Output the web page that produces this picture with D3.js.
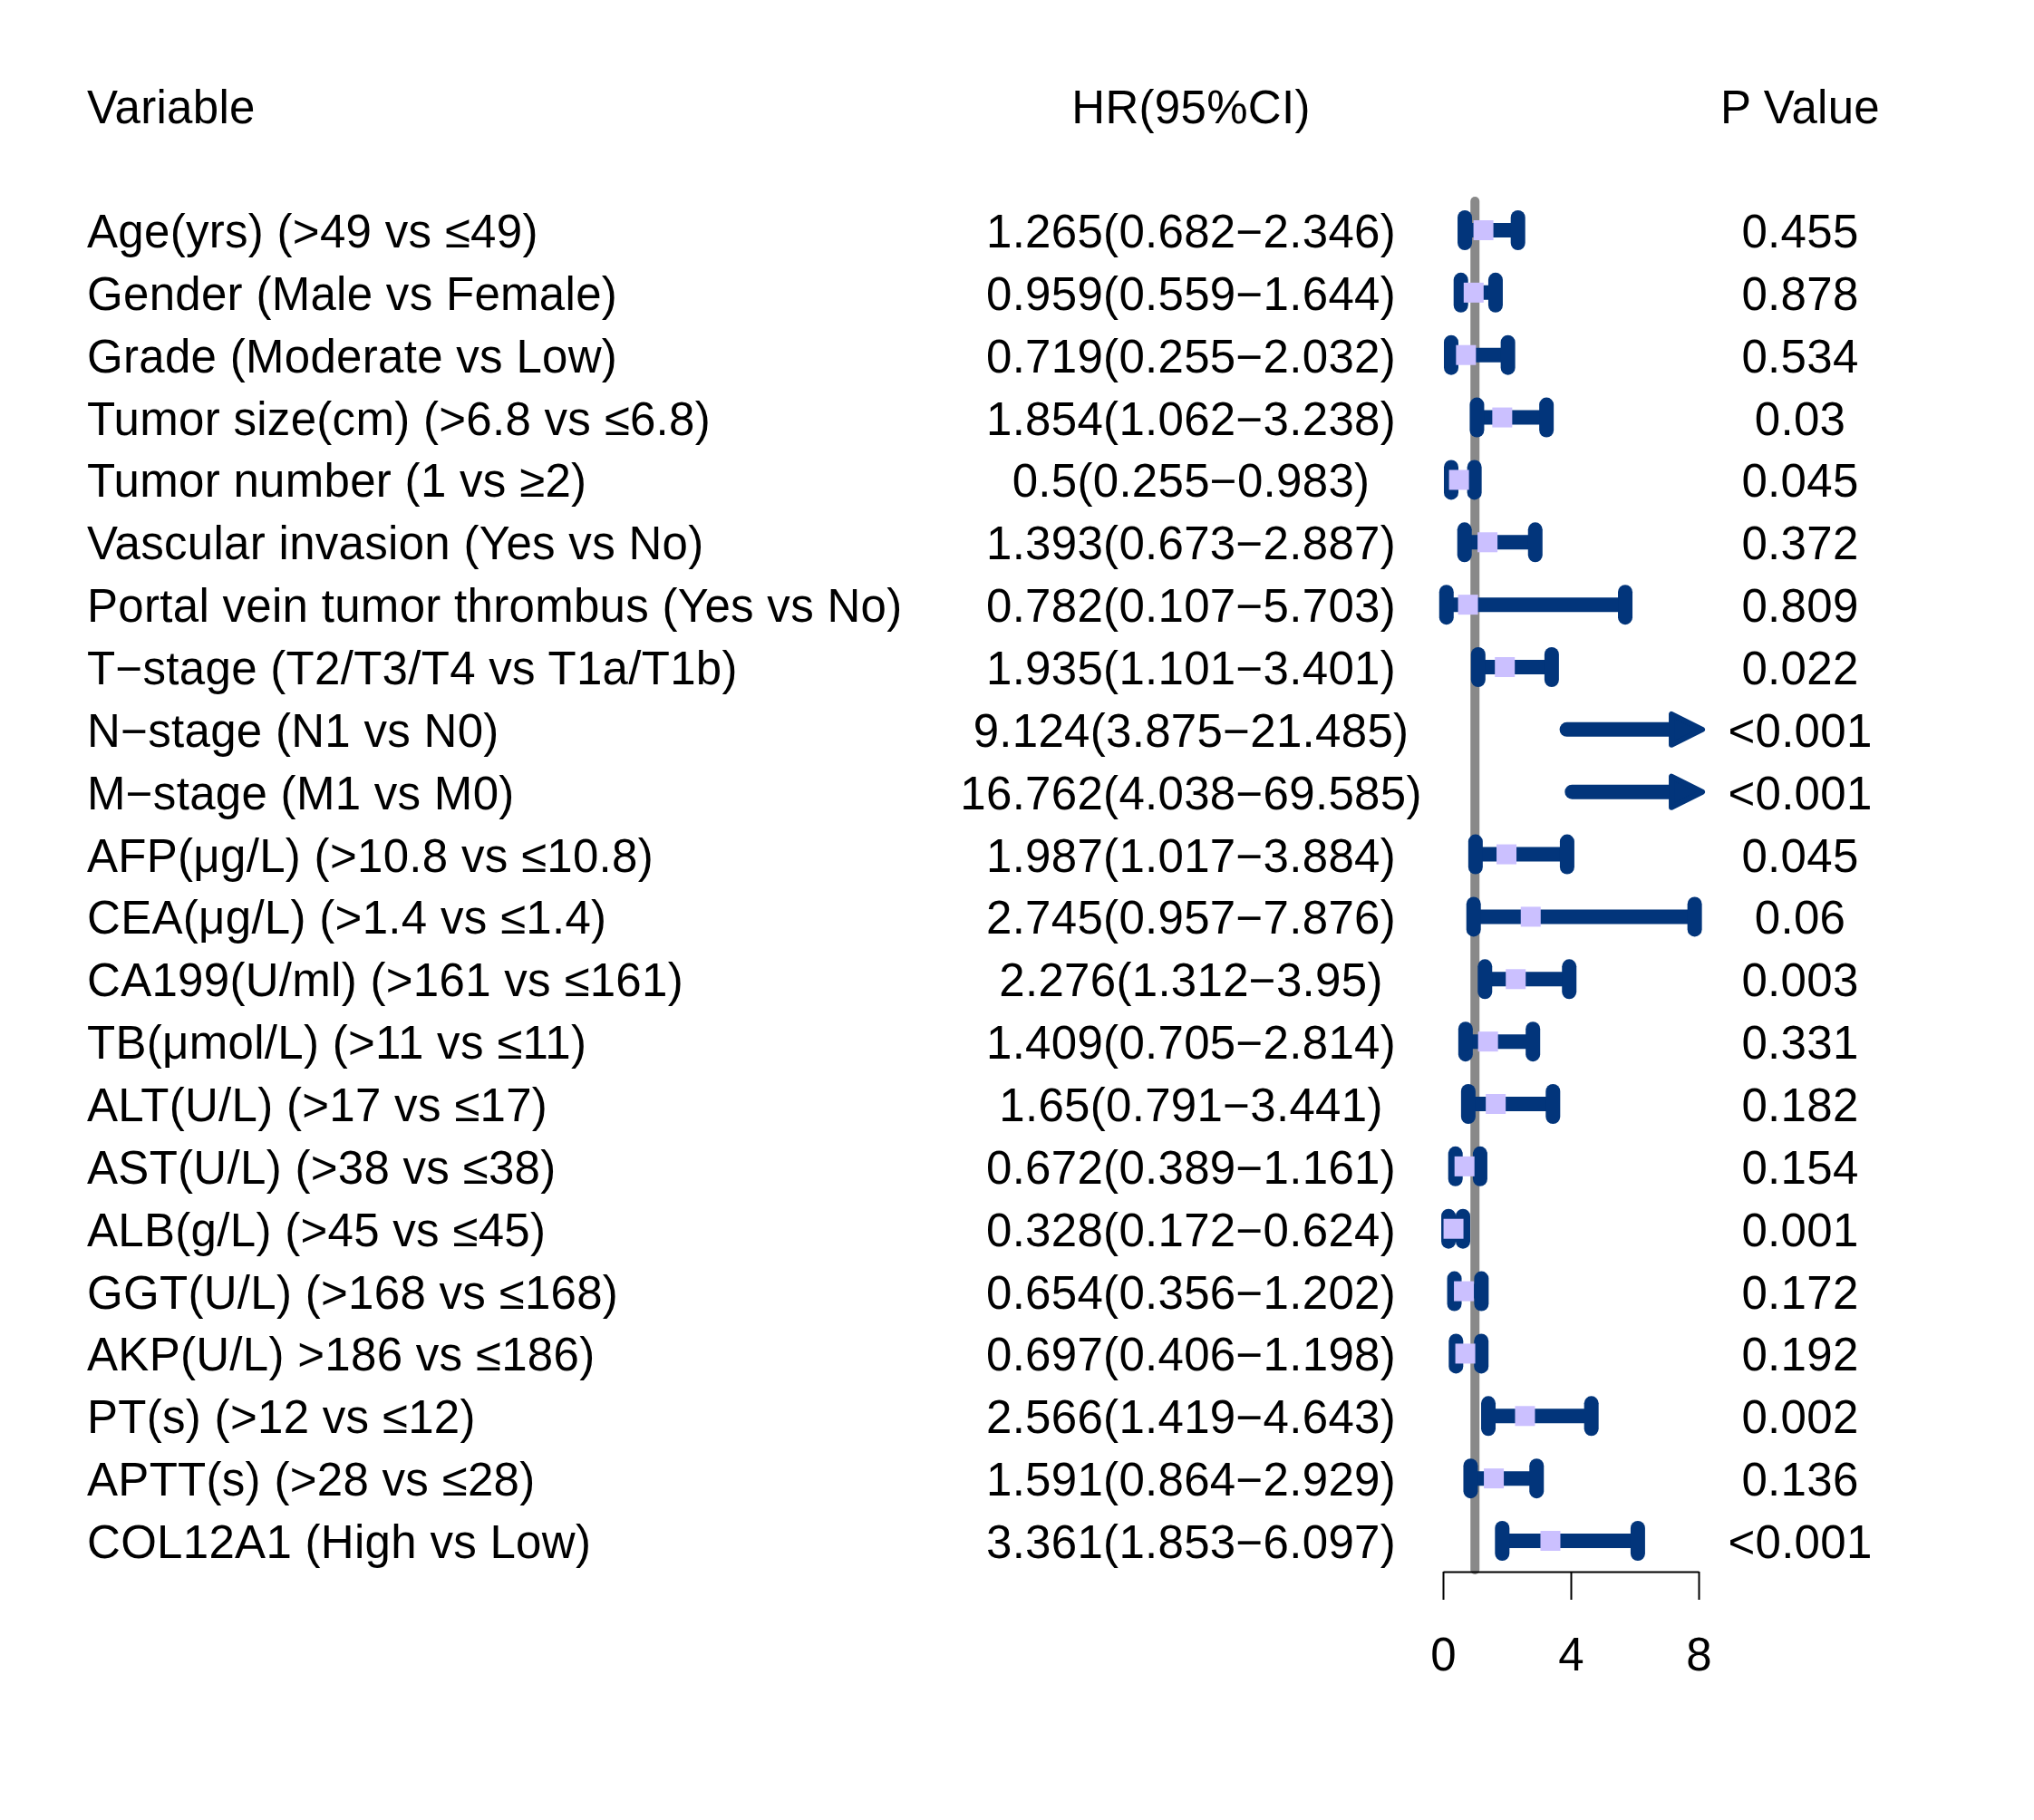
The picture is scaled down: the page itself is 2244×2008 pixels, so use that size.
<!DOCTYPE html>
<html>
<head>
<meta charset="utf-8">
<script src="https://cdn.jsdelivr.net/npm/d3@7"></script>
<style>
  body { margin: 0; background: #fff; }
  text { font-family: "Liberation Sans", Arial, sans-serif; fill: #000; letter-spacing: 0.3px; }
</style>
</head>
<body>
<div id="forest"></div>
<script>
// data
const variables = [
  'Age(yrs) (>49 vs ≤49)',
  'Gender (Male vs Female)',
  'Grade (Moderate vs Low)',
  'Tumor size(cm) (>6.8 vs ≤6.8)',
  'Tumor number (1 vs ≥2)',
  'Vascular invasion (Yes vs No)',
  'Portal vein tumor thrombus (Yes vs No)',
  'T−stage (T2/T3/T4 vs T1a/T1b)',
  'N−stage (N1 vs N0)',
  'M−stage (M1 vs M0)',
  'AFP(μg/L) (>10.8 vs ≤10.8)',
  'CEA(μg/L) (>1.4 vs ≤1.4)',
  'CA199(U/ml) (>161 vs ≤161)',
  'TB(μmol/L) (>11 vs ≤11)',
  'ALT(U/L) (>17 vs ≤17)',
  'AST(U/L) (>38 vs ≤38)',
  'ALB(g/L) (>45 vs ≤45)',
  'GGT(U/L) (>168 vs ≤168)',
  'AKP(U/L) >186 vs ≤186)',
  'PT(s) (>12 vs ≤12)',
  'APTT(s) (>28 vs ≤28)',
  'COL12A1 (High vs Low)'
];
const hr    = [1.265, 0.959, 0.719, 1.854, 0.5, 1.393, 0.782, 1.935, 9.124, 16.762, 1.987, 2.745, 2.276, 1.409, 1.65, 0.672, 0.328, 0.654, 0.697, 2.566, 1.591, 3.361];
const lower = [0.682, 0.559, 0.255, 1.062, 0.255, 0.673, 0.107, 1.101, 3.875, 4.038, 1.017, 0.957, 1.312, 0.705, 0.791, 0.389, 0.172, 0.356, 0.406, 1.419, 0.864, 1.853];
const upper = [2.346, 1.644, 2.032, 3.238, 0.983, 2.887, 5.703, 3.401, 21.485, 69.585, 3.884, 7.876, 3.95, 2.814, 3.441, 1.161, 0.624, 1.202, 1.198, 4.643, 2.929, 6.097];
const pvals = ['0.455', '0.878', '0.534', '0.03', '0.045', '0.372', '0.809', '0.022', '<0.001', '<0.001', '0.045', '0.06', '0.003', '0.331', '0.182', '0.154', '0.001', '0.172', '0.192', '0.002', '0.136', '<0.001'];
const xTicks = [0, 4, 8];
const refLine = 1;
const clipMax = 8.2;

const width = 2244; const height = 2008;
const fontSize = 51;
const navy = '#02357b';
const lavender = '#cbc0ff';

const rows = variables.map((v, i) => ({
  label: v, hr: hr[i], lo: lower[i], up: upper[i], p: pvals[i],
  ci: `${hr[i]}(${lower[i]}−${upper[i]})`
}));

let svg = d3.select('#forest')
  .append('svg')
    .attr('width', width)
    .attr('height', height);
svg.append('rect').attr('width', width).attr('height', height).attr('fill', '#fff');

// scales
const xScale = d3.scaleLinear().domain([0, 8]).range([1592, 1874]);
const yScale = d3.scalePoint().domain(variables).range([254, 1700]);

const colVar = 96, colHR = 1314, colP = 1986;
const base = 19; // text baseline below row centre

// headers
const head = svg.append('g').attr('font-size', fontSize);
head.append('text').attr('x', colVar).attr('y', 136).text('Variable');
head.append('text').attr('x', colHR).attr('y', 136).attr('text-anchor', 'middle').text('HR(95%CI)');
head.append('text').attr('x', colP).attr('y', 136).attr('text-anchor', 'middle').text('P Value');

// table text
const table = svg.append('g').attr('font-size', fontSize);
table.selectAll('.lab').data(rows).enter().append('text')
  .attr('x', colVar).attr('y', d => yScale(d.label) + base).text(d => d.label);
table.selectAll('.ci').data(rows).enter().append('text')
  .attr('x', colHR).attr('y', d => yScale(d.label) + base)
  .attr('text-anchor', 'middle').text(d => d.ci);
table.selectAll('.pv').data(rows).enter().append('text')
  .attr('x', colP).attr('y', d => yScale(d.label) + base)
  .attr('text-anchor', 'middle').text(d => d.p);

// reference line at HR = 1
svg.append('line')
  .attr('x1', xScale(refLine)).attr('x2', xScale(refLine))
  .attr('y1', 222).attr('y2', 1732)
  .attr('stroke', '#898989').attr('stroke-width', 10).attr('stroke-linecap', 'round');

// x axis
const axisG = svg.append('g')
  .attr('transform', `translate(0, 1734)`)
  .call(d3.axisBottom(xScale).tickValues(xTicks).tickSize(31).tickSizeOuter(0).tickPadding(42));
axisG.select('.domain').attr('stroke', '#000').attr('stroke-width', 2);
axisG.selectAll('.tick line').attr('stroke', '#000').attr('stroke-width', 2);
axisG.selectAll('.tick text')
  .attr('font-size', fontSize)
  .attr('font-family', '"Liberation Sans", Arial, sans-serif')
  .attr('fill', '#000');

// confidence intervals
const plotG = svg.append('g');
const clipped = d => d.up > clipMax;
const headLen = 34, headHalf = 17;

plotG.selectAll('.ciline').data(rows).enter().append('line')
  .attr('x1', d => xScale(d.lo))
  .attr('x2', d => clipped(d) ? xScale(clipMax) - headLen : xScale(d.up))
  .attr('y1', d => yScale(d.label)).attr('y2', d => yScale(d.label))
  .attr('stroke', navy).attr('stroke-width', 16)
  .attr('stroke-linecap', d => clipped(d) ? 'round' : 'butt');

// arrow heads for intervals past the axis
plotG.selectAll('.arrow').data(rows.filter(clipped)).enter().append('polygon')
  .attr('points', d => {
    const tip = xScale(clipMax) - 3, y = yScale(d.label);
    return [[tip, y], [tip - headLen, y - headHalf], [tip - headLen, y + headHalf]].join(' ');
  })
  .attr('fill', navy).attr('stroke', navy).attr('stroke-width', 6).attr('stroke-linejoin', 'round');

// end caps
const caps = [];
rows.forEach(d => {
  if (clipped(d)) return;
  caps.push({ label: d.label, v: d.lo });
  caps.push({ label: d.label, v: d.up });
});
plotG.selectAll('.cap').data(caps).enter().append('line')
  .attr('x1', d => xScale(d.v)).attr('x2', d => xScale(d.v))
  .attr('y1', d => yScale(d.label) - 14).attr('y2', d => yScale(d.label) + 14)
  .attr('stroke', navy).attr('stroke-width', 16).attr('stroke-linecap', 'round');

// point estimates
const boxSize = 22;
plotG.selectAll('.box').data(rows.filter(d => d.hr <= clipMax)).enter().append('rect')
  .attr('x', d => xScale(d.hr) - boxSize / 2)
  .attr('y', d => yScale(d.label) - boxSize / 2)
  .attr('width', boxSize).attr('height', boxSize)
  .attr('fill', lavender);
</script>
</body>
</html>
